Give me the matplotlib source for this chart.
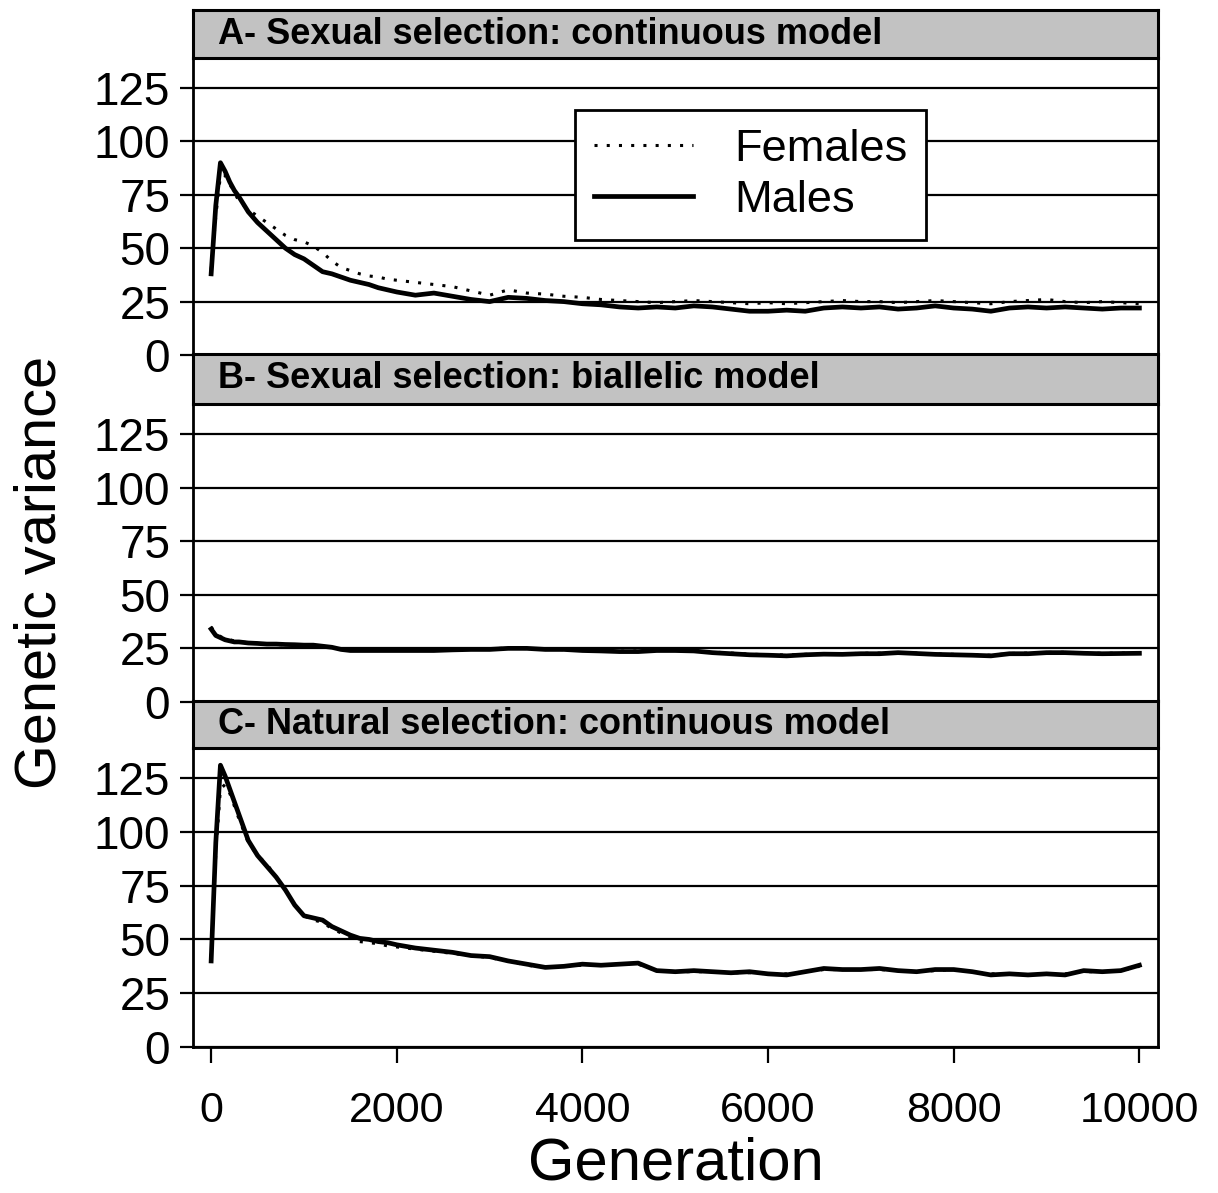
import matplotlib
matplotlib.use("Agg")
import matplotlib.pyplot as plt

plt.rcParams['font.family'] = ['Liberation Sans', 'DejaVu Sans']

# generation sampled on the x axis (shared by every series)
generations = [0, 50, 100, 150, 200, 250, 300, 400, 500, 600, 700, 800, 900,
               1000, 1100, 1200, 1300, 1400, 1500, 1600, 1700, 1800, 1900, 2000,
               2200, 2400, 2600, 2800, 3000, 3200, 3400, 3600, 3800, 4000,
               4200, 4400, 4600, 4800, 5000, 5200, 5400, 5600, 5800, 6000,
               6200, 6400, 6600, 6800, 7000, 7200, 7400, 7600, 7800, 8000,
               8200, 8400, 8600, 8800, 9000, 9200, 9400, 9600, 9800, 10000]

# A - sexual selection, continuous model
a_males = [38, 70, 90, 86, 81, 77, 74, 67, 62, 58, 54, 50, 47,
           45, 42, 39, 38, 36.5, 35, 34, 33, 31.5, 30.5, 29.5,
           28, 29, 27.5, 26, 25, 27, 26.5, 25.5, 25, 24,
           23.5, 22.5, 22, 22.5, 22, 23, 22.5, 21.5, 20.5, 20.5,
           21, 20.5, 22, 22.5, 22, 22.5, 21.5, 22, 23, 22,
           21.5, 20.5, 22, 22.5, 22, 22.5, 22, 21.5, 22, 22]
a_females = [40, 65, 84, 84, 80, 76, 72, 68, 65, 62, 59, 56, 54,
             53, 51, 48, 44, 41, 39.5, 38, 37, 36.5, 35.5, 35,
             34, 33, 32, 30, 28, 30.5, 29, 28.5, 27.5, 27,
             26, 25.5, 25, 24.5, 25, 25.5, 25, 24.5, 24, 24.5,
             24, 24.5, 25, 25.5, 25, 25, 24.5, 25, 25.5, 25,
             24.5, 24, 25, 25.5, 26, 25, 24.5, 25, 24.5, 24]

# B - sexual selection, biallelic model
b_males = [34, 31, 30, 29, 28.5, 28, 28, 27.5, 27.3, 27, 27, 26.8, 26.7,
           26.5, 26.5, 26, 25.5, 24.5, 24, 24, 24, 24, 24, 24,
           24, 24, 24.3, 24.5, 24.5, 25, 25, 24.5, 24.5, 24,
           23.8, 23.5, 23.5, 24, 24, 23.8, 23, 22.5, 22, 21.8,
           21.5, 22, 22.3, 22.2, 22.5, 22.5, 23, 22.6, 22.2, 22,
           21.8, 21.5, 22.5, 22.5, 23, 23, 22.7, 22.5, 22.6, 22.7]
b_females = [35, 32, 30.5, 29.5, 29, 28.5, 28, 27.7, 27.3, 27, 26.8, 26.6, 26.5,
             26.5, 26.4, 26, 25.5, 24.8, 24.3, 24.2, 24.2, 24.1, 24.2, 24.3,
             24.2, 24.3, 24.5, 24.6, 24.8, 25.1, 24.9, 24.7, 24.4, 24.2,
             24, 23.7, 23.8, 24.1, 24.2, 23.9, 23.3, 22.8, 22.3, 22,
             21.9, 22.2, 22.5, 22.4, 22.7, 22.8, 23.1, 22.8, 22.4, 22.2,
             22, 21.8, 22.6, 22.8, 23.1, 23.2, 22.9, 22.7, 22.8, 22.9]

# C - natural selection, continuous model
c_males = [40, 95, 131, 126, 120, 114, 108, 96, 89, 84, 79, 73, 66,
           61, 60, 59, 56, 54, 52, 50.5, 50, 49, 48.5, 47.5,
           46, 45, 44, 42.5, 42, 40, 38.5, 37, 37.5, 38.5,
           38, 38.5, 39, 35.5, 35, 35.5, 35, 34.5, 35, 34,
           33.5, 35, 36.5, 36, 36, 36.5, 35.5, 35, 36, 36,
           35, 33.5, 34, 33.5, 34, 33.5, 35.5, 35, 35.5, 38]
c_females = [42, 90, 120, 122, 118, 112, 106, 95, 89, 85, 79, 73, 66,
             61, 59, 58, 55, 53, 51, 49, 48.5, 48, 47, 46.5,
             45.5, 44.5, 43.5, 42.5, 41.5, 40, 38, 37, 37.5, 38,
             38, 38.5, 38.5, 35.5, 35, 35, 35, 34.5, 34.5, 34,
             34, 35, 36, 36, 36, 36, 35.5, 35, 35.5, 36,
             35, 34, 34, 33.5, 34, 34, 35, 35, 35.5, 37.5]

panel_titles = ["A- Sexual selection: continuous model",
                "B- Sexual selection: biallelic model",
                "C- Natural selection: continuous model"]
y_ticks = [0, 25, 50, 75, 100, 125]
x_ticks = [0, 2000, 4000, 6000, 8000, 10000]

fig = plt.figure(figsize=(12.18, 11.93), dpi=100)

left, width = 0.1585, 0.7922
# (axes bottom, axes top, header top) in figure fraction
panels = [(0.7024, 0.9514, 0.9916),
          (0.4116, 0.6614, 0.7033),
          (0.1224, 0.3730, 0.4124)]
series = [(a_males, a_females), (b_males, b_females), (c_males, c_females)]

for i, ((bot, top, htop), (males, females), title) in enumerate(zip(panels, series, panel_titles)):
    ax = fig.add_axes([left, bot, width, top - bot])
    ax.set_xlim(-195, 10200)
    ax.set_ylim(0, 139)
    ax.set_yticks(y_ticks)
    ax.yaxis.grid(True, color='black', linewidth=1.6)
    ax.set_axisbelow(True)
    ax.tick_params(axis='y', direction='out', length=9.5, width=1.6, pad=7, labelsize=33)
    for sp in ax.spines.values():
        sp.set_linewidth(2)

    fem, = ax.plot(generations, females, color='black', linewidth=2.2,
                   linestyle=(0, (1, 3)), label='Females')
    mal, = ax.plot(generations, males, color='black', linewidth=3.4,
                   label='Males')

    if i == 2:
        ax.set_xticks(x_ticks)
        ax.tick_params(axis='x', direction='out', length=11.5, width=1.6, pad=20, labelsize=31)
        ax.set_xlabel('Generation', fontsize=43, labelpad=4)
    else:
        ax.set_xticks([])

    if i == 0:
        leg = ax.legend(handles=[fem, mal], loc='upper left',
                        bbox_to_anchor=(0.396, 0.825), fontsize=32.5,
                        frameon=True, fancybox=False, framealpha=1,
                        edgecolor='black', handlelength=2.2,
                        handletextpad=0.9, labelspacing=0.22,
                        borderpad=0.42, borderaxespad=0)
        leg.get_frame().set_linewidth(2)

    # grey header strip with panel title
    hax = fig.add_axes([left, top, width, htop - top])
    hax.set_facecolor('#c2c2c2')
    hax.set_xticks([])
    hax.set_yticks([])
    for sp in hax.spines.values():
        sp.set_linewidth(2.2)
    hax.text(0.026, 0.5, title, transform=hax.transAxes, ha='left', va='center',
             fontsize=26, fontweight='bold')

fig.text(0.033, 0.52, 'Genetic variance', rotation=90, ha='center', va='center',
         fontsize=41.5)

fig.savefig('out.png', dpi=100)
